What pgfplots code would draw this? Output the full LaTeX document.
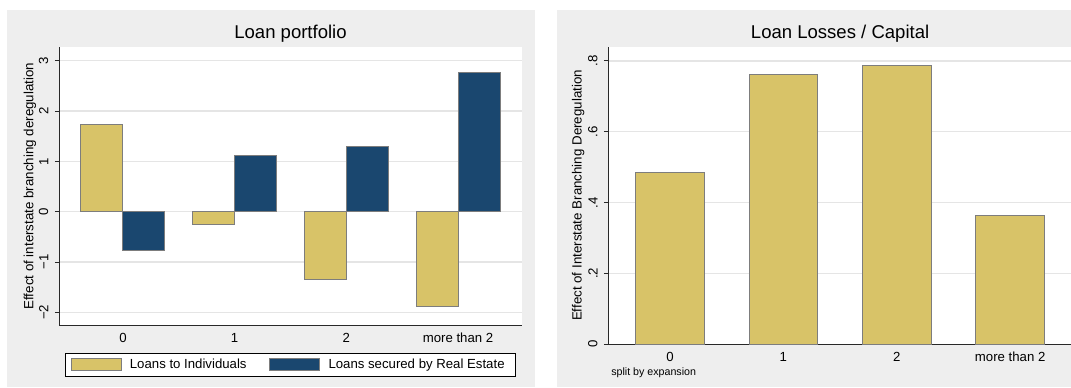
\documentclass[border=0pt]{standalone}
\usepackage{fontspec}
\setmainfont{Liberation Sans}
\usepackage{pgfplots}
\pgfplotsset{compat=1.18}

\definecolor{panelgray}{RGB}{238,238,238}
\definecolor{gridgray}{RGB}{229,229,229}
\definecolor{barsand}{RGB}{216,195,104}
\definecolor{barnavy}{RGB}{26,71,111}
\definecolor{baredge}{RGB}{125,125,125}
\definecolor{axisdark}{RGB}{40,40,40}

\newcommand{\ticksize}{\fontsize{9.9}{11.5}\selectfont}
\newcommand{\titlesize}{\fontsize{13.9}{16}\selectfont}

\pgfplotsset{
  ybar legend/.style={legend image code/.code={\draw[##1] (0pt,-4.3pt) rectangle (37.5pt,5pt);}},
  panel/.style={
    scale only axis,
    axis background/.style={fill=white},
    axis x line*=bottom,
    axis y line*=left,
    axis line style={axisdark, line width=0.75pt, -},
    ymajorgrids,
    grid style={gridgray, line width=1pt},
    tick align=outside,
    major tick length=3.4pt,
    ytick style={axisdark, line width=0.75pt},
    xtick style={draw=none},
    xtick={0,1,2,3},
    xticklabels={0,1,2,more than 2},
    ticklabel style={font=\ticksize, text=black},
    yticklabel style={rotate=90, anchor=south, inner sep=0pt},
    yticklabel shift=4.6pt,
    xticklabel style={anchor=north, inner sep=0pt},
    xticklabel shift=2.3pt,
    label style={font=\ticksize},
    every axis y label/.style={rotate=90, anchor=base},
    title style={font=\titlesize, at={(0.5,1)}, anchor=base, yshift=0pt},
    ybar=0pt,
  },
}

\begin{document}
\begin{tikzpicture}
\useasboundingbox (0pt,0pt) rectangle (803.25pt,291pt);
\fill[white] (0pt,0pt) rectangle (803.25pt,291pt);
\fill[panelgray] (5.025pt,0.975pt) rectangle (401.25pt,283.5pt);
\fill[panelgray] (417.75pt,0.975pt) rectangle (803.25pt,283.5pt);

% Left panel: loan portfolio composition
\begin{axis}[panel,
  at={(44.475pt,46.875pt)}, anchor=south west,
  width=346.8pt, height=209.1pt,
  xmin=-0.57, xmax=3.57, ymin=-2.26, ymax=3.28,
  ytick={-2,-1,0,1,2,3}, yticklabels={−2,−1,0,1,2,3},
  bar width=31.5pt,
  title={Loan portfolio},
  ylabel={Effect of interstate branching deregulation},
  ylabel style={at={(axis description cs:-0.0562,0.5)}},
  legend columns=2,
  legend style={at={(0.5,-0.14)}, anchor=center, draw=black, line width=0.75pt,
    fill=white, font=\ticksize, inner xsep=4.1pt, inner ysep=3.6pt,
    column sep=6.2pt, /tikz/every even column/.append style={column sep=17pt},
    nodes={inner sep=0pt}},
]
\addplot[fill=barsand, draw=baredge, line width=0.75pt]
  coordinates {(0,1.74) (1,-0.25) (2,-1.34) (3,-1.88)};
\addplot[fill=barnavy, draw=baredge, line width=0.75pt]
  coordinates {(0,-0.76) (1,1.11) (2,1.29) (3,2.76)};
\legend{Loans to Individuals, Loans secured by Real Estate\hspace*{4.3pt}}
\end{axis}

% Right panel: loan losses relative to capital
\begin{axis}[panel,
  at={(456.375pt,32.775pt)}, anchor=south west,
  width=347.4pt, height=223.2pt,
  xmin=-0.5425, xmax=3.5425, ymin=0, ymax=0.8404,
  ytick={0,0.2,0.4,0.6,0.8}, yticklabels={0,.2,.4,.6,.8},
  bar width=51.3pt,
  title={Loan Losses / Capital},
  ylabel={Effect of Interstate Branching Deregulation},
  ylabel style={at={(axis description cs:-0.0579,0.5)}},
]
\addplot[fill=barsand, draw=baredge, line width=0.75pt]
  coordinates {(0,0.485) (1,0.762) (2,0.788) (3,0.363)};
\end{axis}

\node[anchor=base west, inner sep=0pt, font=\fontsize{8}{9.5}\selectfont] at (458.25pt,9pt) {split by expansion};
\end{tikzpicture}
\end{document}
